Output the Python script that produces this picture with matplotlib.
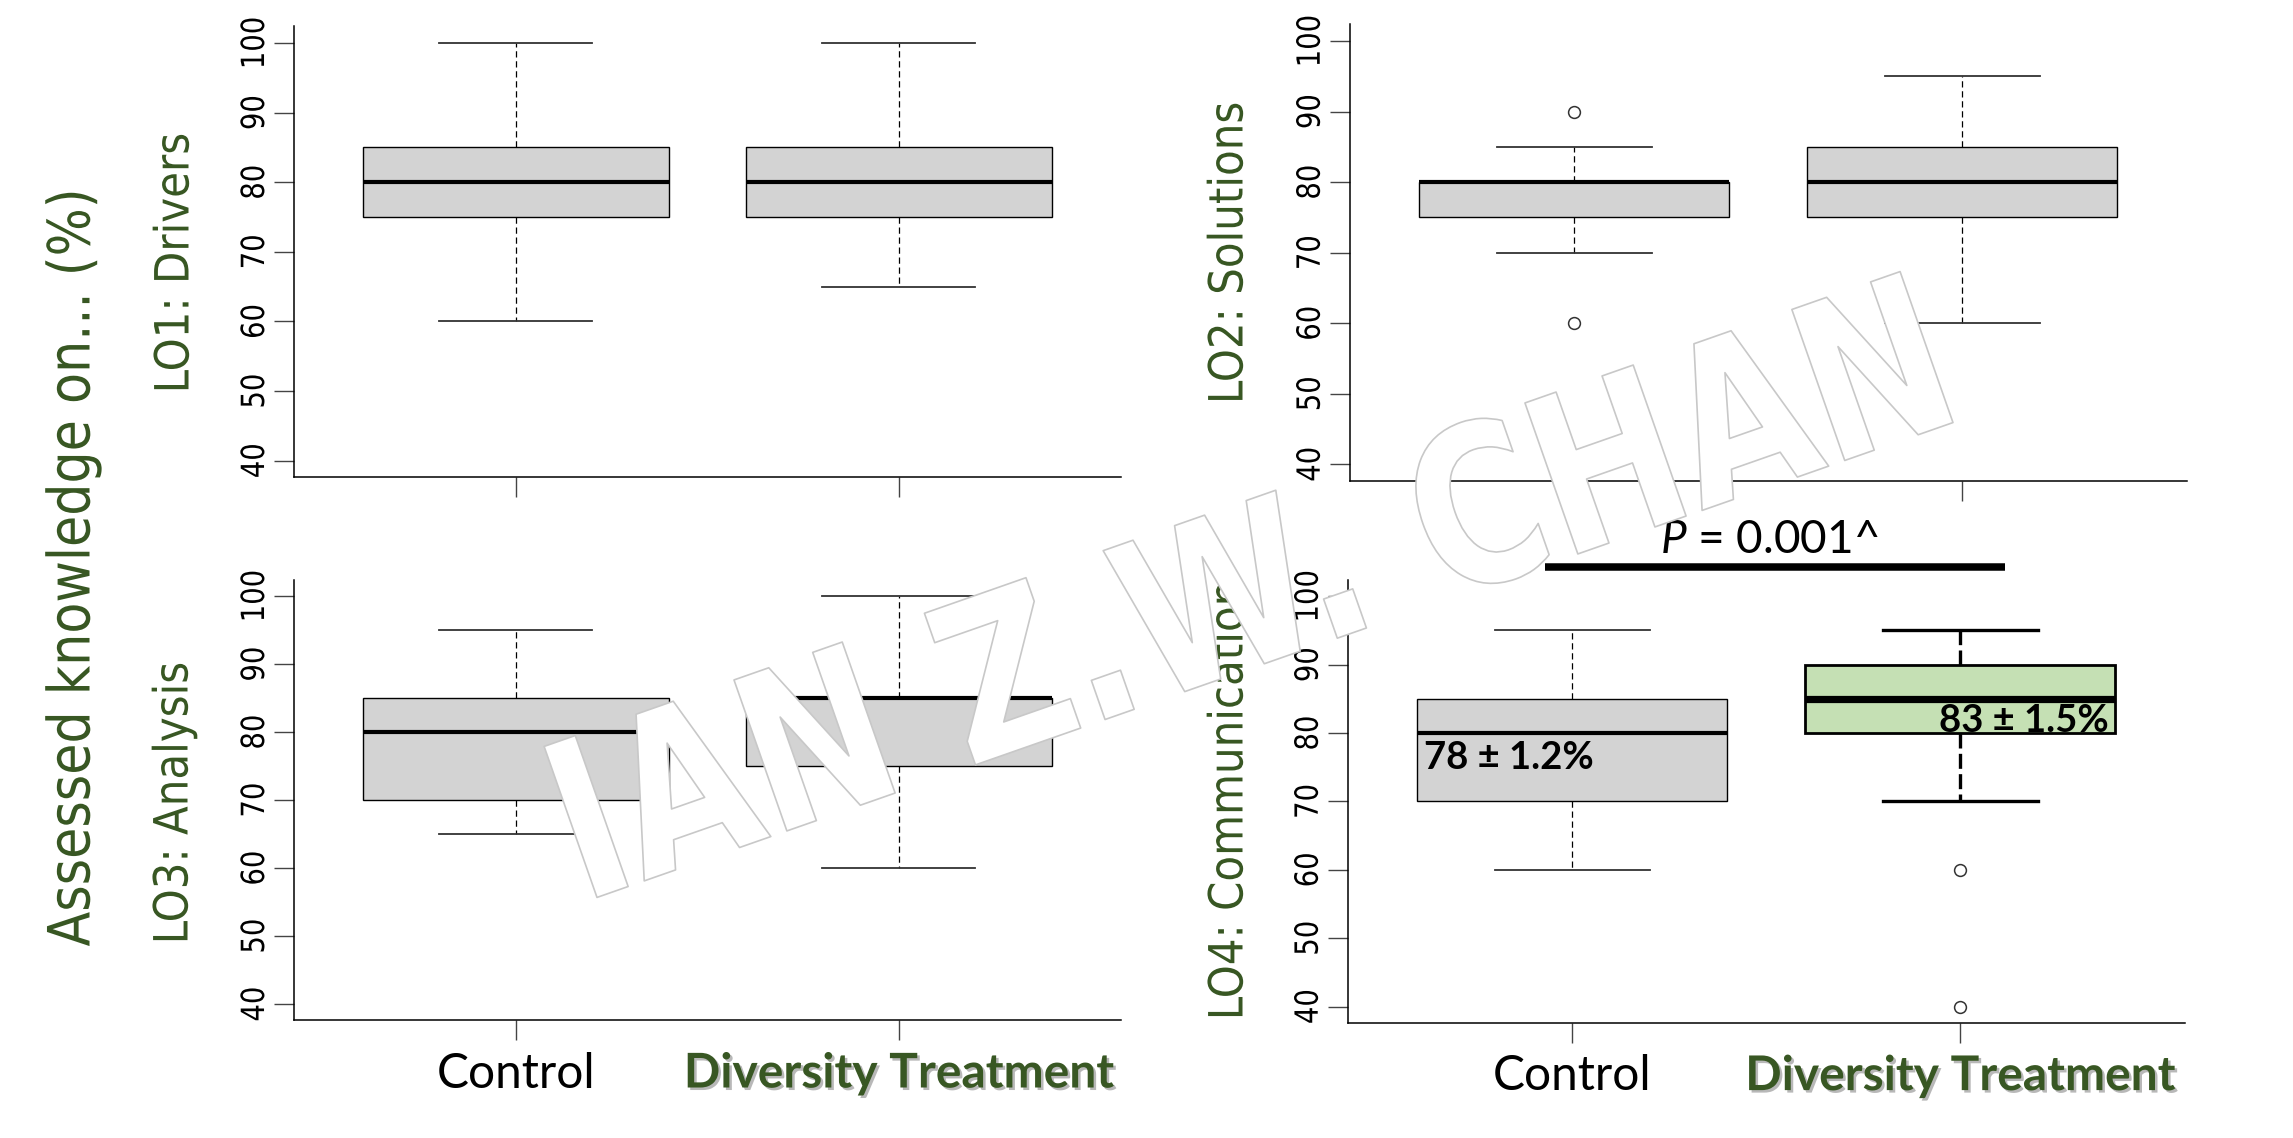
import numpy as np
import matplotlib
matplotlib.use("Agg")
import matplotlib.pyplot as plt
import matplotlib.patheffects as pe
import matplotlib.colors as mcolors
from matplotlib.transforms import Affine2D

# ---------------- data ----------------
groups = ["Control", "Diversity Treatment"]
outcomes = ["LO1: Drivers", "LO2: Solutions", "LO3: Analysis", "LO4: Communication"]
whis_lo = [[60, 65], [70, 60], [65, 60], [60, 70]]
q1 = [[75, 75], [75, 75], [70, 75], [70, 80]]
median = [[80, 80], [80, 80], [80, 85], [80, 85]]
q3 = [[85, 85], [80, 85], [85, 85], [85, 90]]
whis_hi = [[100, 100], [85, 95], [95, 100], [95, 95]]
outliers = [[[], []], [[90, 60], []], [[], []], [[], [60, 40]]]
y_ticks = [40, 50, 60, 70, 80, 90, 100]
mean_labels = ["78 \u00b1 1.2%", "83 \u00b1 1.5%"]
p_label = "$P$ = 0.001^"
y_title = "Assessed knowledge on... (%)"
watermark = "IAN Z.W. CHAN"

# ---------------- style ----------------
W, H, DPI = 2293, 1138, 100
GREEN = "#385723"
GRAY_FILL = "#d3d3d3"
GREEN_FILL = "#c5e0b4"

plt.rcParams["mathtext.fontset"] = "custom"
plt.rcParams["mathtext.it"] = "Lato:italic"
plt.rcParams["mathtext.rm"] = "Lato"


class Squeeze(pe.AbstractPathEffect):
    """Draw text with its glyphs compressed along the text direction."""

    def __init__(self, sx=1.0, face=None, edge=None, lw=0.0):
        super().__init__()
        self.sx, self.face, self.edge, self.lw = sx, face, edge, lw

    def draw_path(self, renderer, gc, tpath, affine, rgbFace=None):
        ext = tpath.get_extents()
        cx = 0.5 * (ext.x0 + ext.x1)
        pre = Affine2D().translate(-cx, 0).scale(self.sx, 1).translate(cx, 0)
        gc0 = renderer.new_gc()
        gc0.copy_properties(gc)
        if self.edge is not None:
            gc0.set_foreground(self.edge)
            gc0.set_linewidth(self.lw)
        face = rgbFace if self.face is None else mcolors.to_rgba(self.face)
        renderer.draw_path(gc0, tpath, pre + affine, face)
        gc0.restore()


def px_rect(l, r, t, b):
    return [l / W, 1 - b / H, (r - l) / W, (b - t) / H]


fig = plt.figure(figsize=(W / DPI, H / DPI), dpi=DPI, facecolor="white")

rects = [
    px_rect(293.8, 1120.8, 26.2, 477.4),
    px_rect(1349.5, 2187.0, 24.1, 481.2),
    px_rect(293.8, 1120.8, 579.7, 1020.4),
    px_rect(1347.5, 2185.0, 579.8, 1023.0),
]

normal_style = dict(
    boxprops=dict(facecolor=GRAY_FILL, edgecolor="black", linewidth=1.0),
    medianprops=dict(color="black", linewidth=3.0, solid_capstyle="butt"),
    whiskerprops=dict(color="black", linewidth=0.9, linestyle=(0, (5, 3))),
    capprops=dict(color="#333333", linewidth=1.3),
    flierprops=dict(marker="o", markerfacecolor="none", markeredgecolor="#333333",
                    markersize=8.5, markeredgewidth=1.1, linestyle="none"),
)
bold_style = dict(
    boxprops=dict(facecolor=GREEN_FILL, edgecolor="black", linewidth=2.0),
    medianprops=dict(color="black", linewidth=5.2, solid_capstyle="butt"),
    whiskerprops=dict(color="black", linewidth=2.4, linestyle=(0, (4.5, 1.6))),
    capprops=dict(color="black", linewidth=2.4),
    flierprops=dict(marker="o", markerfacecolor="none", markeredgecolor="#333333",
                    markersize=8.5, markeredgewidth=1.1, linestyle="none"),
)

axes = []
for i, rect in enumerate(rects):
    ax = fig.add_axes(rect)
    axes.append(ax)
    for j in range(2):
        st = dict(med=median[i][j], q1=q1[i][j], q3=q3[i][j],
                  whislo=whis_lo[i][j], whishi=whis_hi[i][j],
                  fliers=np.array(outliers[i][j], dtype=float))
        style = bold_style if (i == 3 and j == 1) else normal_style
        ax.bxp([st], positions=[j + 1], widths=0.8, patch_artist=True,
               showfliers=True, manage_ticks=False, **style)
    ax.set_xlim(0.42, 2.58)
    ax.set_ylim(37.6, 102.4)
    ax.set_facecolor("none")
    for s in ("top", "right"):
        ax.spines[s].set_visible(False)
    for s in ("left", "bottom"):
        ax.spines[s].set_linewidth(1.1)
        ax.spines[s].set_color("black")
    ax.tick_params(axis="both", direction="out", length=14.4, width=1.0, color="#444444")
    ax.tick_params(axis="y", pad=2)
    ax.set_yticks(y_ticks, labels=[str(v) for v in y_ticks], rotation=90, va="center",
                  fontsize=23, family="DejaVu Sans", color="black",
                  path_effects=[Squeeze(0.86)])
    if i >= 2:
        ax.set_xticks([1, 2], labels=groups, fontsize=34.5, family="Lato", color="black")
        ax.tick_params(axis="x", pad=8)
        tl = ax.get_xticklabels()[1]
        tl.set_fontweight("bold")
        tl.set_color(GREEN)
        tl.set_path_effects([pe.SimplePatchShadow(offset=(1.8, -1.8), shadow_rgbFace="#7f7f7f",
                                                  alpha=0.55), pe.Normal()])
    else:
        ax.set_xticks([1, 2], labels=["", ""])

# outcome labels (rotated, green)
label_pos = [(176, 263), (1230, 253), (175, 803), (1230, 800)]
for (x, y), txt in zip(label_pos, outcomes):
    fig.text(x / W, 1 - y / H, txt, rotation=90, ha="center", va="center",
             fontsize=34, family="DejaVu Sans", color=GREEN,
             path_effects=[Squeeze(0.89)])

fig.text(73 / W, 1 - 567 / H, y_title, rotation=90, ha="center", va="center",
         fontsize=42, family="DejaVu Sans", color=GREEN,
         path_effects=[Squeeze(0.87)])

# LO4 annotations
ax4 = axes[3]
ax4.text(0.6175, 74.74, mean_labels[0], ha="left", va="baseline", fontsize=27.5,
         family="Lato", fontweight="bold", color="black", zorder=5)
ax4.text(2.384, 80.19, mean_labels[1], ha="right", va="baseline", fontsize=27.5,
         family="Lato", fontweight="bold", color="black", zorder=5)
ax4.plot([0.929, 2.117], [104.2, 104.2], color="black", linewidth=5.4,
         solid_capstyle="butt", clip_on=False)
ax4.text(1.507, 106.26, p_label, ha="center", va="baseline", fontsize=33,
         family="Lato", color="black", clip_on=False)

# watermark
fig.text(1275 / W, 1 - 660 / H, watermark, rotation=19.3, rotation_mode="anchor",
         ha="center", va="baseline", fontsize=158, fontweight="bold",
         family="DejaVu Sans", color="white", zorder=10,
         path_effects=[Squeeze(0.8, face="white", edge="#c8c8c8", lw=1.2)])

fig.savefig("out.png", dpi=DPI, facecolor="white")
